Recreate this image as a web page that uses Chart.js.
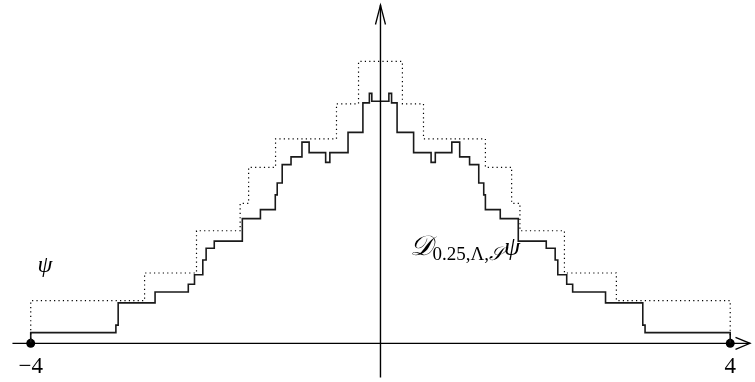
<!DOCTYPE html>
<html>
<head>
<meta charset="utf-8">
<script src="https://cdn.jsdelivr.net/npm/chart.js@4/dist/chart.umd.min.js"></script>
<style>
  html, body { margin: 0; padding: 0; background: #fff; }
  #wrap { width: 755px; height: 382px; }
</style>
</head>
<body>
<div id="wrap"><canvas id="c" width="755" height="382"></canvas></div>
<script>
// psi (dotted step function): breakpoints and the level that starts there
const psiX = [-4, -4, -2.698, -2.104, -1.605, -1.508, -1.2, -0.503, -0.251, 0.251, 0.492, 1.2, 1.5, 1.595, 2.104, 2.698, 4, 4];
const psiY = [0, 0.494, 0.814, 1.303, 1.62, 2.037, 2.367, 2.772, 3.262, 2.772, 2.367, 2.037, 1.62, 1.303, 0.814, 0.494, 0.494, 0];

// D_{0.25,Lambda,S} psi (solid step function)
const dX = [-4, -4, -3.026, -3.0, -2.578, -2.198, -2.127, -2.032, -1.994, -1.901, -1.58, -1.373, -1.203, -1.181,
  -1.124, -1.023, -0.898, -0.816, -0.627, -0.579, -0.371, -0.201, -0.127, -0.099,
  0.096, 0.127, 0.19, 0.379, 0.579, 0.627, 0.816, 0.906, 1.019, 1.124, 1.181, 1.2, 1.37, 1.576,
  1.896, 1.998, 2.028, 2.13, 2.198, 2.574, 3.0, 3.026, 4, 4];
const dY = [0, 0.124, 0.211, 0.469, 0.595, 0.684, 0.794, 0.964, 1.1, 1.183, 1.443, 1.548, 1.718, 1.856,
  2.068, 2.158, 2.328, 2.207, 2.094, 2.207, 2.441, 2.783, 2.893, 2.802,
  2.893, 2.783, 2.441, 2.207, 2.094, 2.207, 2.328, 2.158, 2.068, 1.856, 1.718, 1.548, 1.443, 1.183,
  1.1, 0.964, 0.794, 0.684, 0.595, 0.469, 0.211, 0.124, 0.124, 0];

// axes lines and end points
const axisX = [-4.209, 4.232];
const axisY = [-0.4, 3.921];
const endX = [-4, 4];

const toPts = (xs, ys) => xs.map((x, i) => ({ x: x, y: ys[i] }));

const arrows = {
  id: 'arrows',
  afterDatasetsDraw(chart) {
    const { ctx, scales: { x, y } } = chart;
    ctx.save();
    ctx.strokeStyle = '#000';
    ctx.lineWidth = 1.3;
    // vertical arrow head
    const tx = x.getPixelForValue(0), ty = y.getPixelForValue(axisY[1]);
    ctx.beginPath();
    ctx.moveTo(tx - 5, ty + 20); ctx.lineTo(tx, ty + 0.5); ctx.lineTo(tx + 5, ty + 20);
    ctx.stroke();
    // horizontal arrow head
    const hx = x.getPixelForValue(axisX[1]), hy = y.getPixelForValue(0);
    ctx.beginPath();
    ctx.moveTo(hx - 15, hy - 6); ctx.lineTo(hx - 0.5, hy); ctx.lineTo(hx - 15, hy + 6);
    ctx.stroke();

    // text labels
    ctx.fillStyle = '#000';
    ctx.textBaseline = 'alphabetic';
    ctx.textAlign = 'center';
    ctx.font = '23px "Liberation Serif", serif';
    ctx.fillText('\u22124', x.getPixelForValue(-4), y.getPixelForValue(-0.345));
    ctx.fillText('4', x.getPixelForValue(4), y.getPixelForValue(-0.345));
    ctx.font = 'italic 24px "Liberation Serif", serif';
    ctx.fillText('\u03C8', x.getPixelForValue(-3.836), y.getPixelForValue(0.82));

    // D_{0.25,Λ,S} psi
    let px = x.getPixelForValue(0.333), py = y.getPixelForValue(1.017);
    ctx.textAlign = 'left';
    ctx.font = 'italic 28px "DejaVu Serif", "Liberation Serif", serif';
    ctx.fillText('\uD835\uDC9F', px, py);
    px += ctx.measureText('\uD835\uDC9F').width + 1;
    ctx.font = '19px "Liberation Serif", serif';
    const sub1 = '0.25,\u039B,';
    ctx.fillText(sub1, px, py + 5);
    px += ctx.measureText(sub1).width;
    ctx.font = 'italic 19px "DejaVu Serif", "Liberation Serif", serif';
    ctx.fillText('\uD835\uDCAE', px, py + 5);
    px += ctx.measureText('\uD835\uDCAE').width;
    ctx.font = 'italic 26px "Liberation Serif", serif';
    ctx.fillText('\u03C8', px, py);
    ctx.restore();
  }
};

new Chart(document.getElementById('c'), {
  type: 'scatter',
  data: {
    datasets: [
      { data: toPts(axisX, [0, 0]), showLine: true, borderColor: '#000', borderWidth: 1.4, pointRadius: 0 },
      { data: toPts([0, 0], axisY), showLine: true, borderColor: '#000', borderWidth: 1.4, pointRadius: 0 },
      { data: toPts(psiX, psiY), showLine: true, stepped: 'before', borderColor: '#000', borderWidth: 1.2,
        borderDash: [1.2, 3.2], pointRadius: 0 },
      { data: toPts(dX, dY), showLine: true, stepped: 'before', borderColor: '#1a1a1a', borderWidth: 1.6, pointRadius: 0 },
      { data: toPts(endX, [0, 0]), showLine: false, pointRadius: 4.5, pointBackgroundColor: '#000', pointBorderWidth: 0 }
    ]
  },
  options: {
    responsive: false,
    animation: false,
    layout: { padding: 0 },
    plugins: { legend: { display: false }, tooltip: { enabled: false } },
    scales: {
      x: { type: 'linear', min: -4.3, max: 4.232, display: false },
      y: { min: -0.395, max: 3.921, display: false }
    }
  },
  plugins: [arrows]
});
</script>
</body>
</html>
